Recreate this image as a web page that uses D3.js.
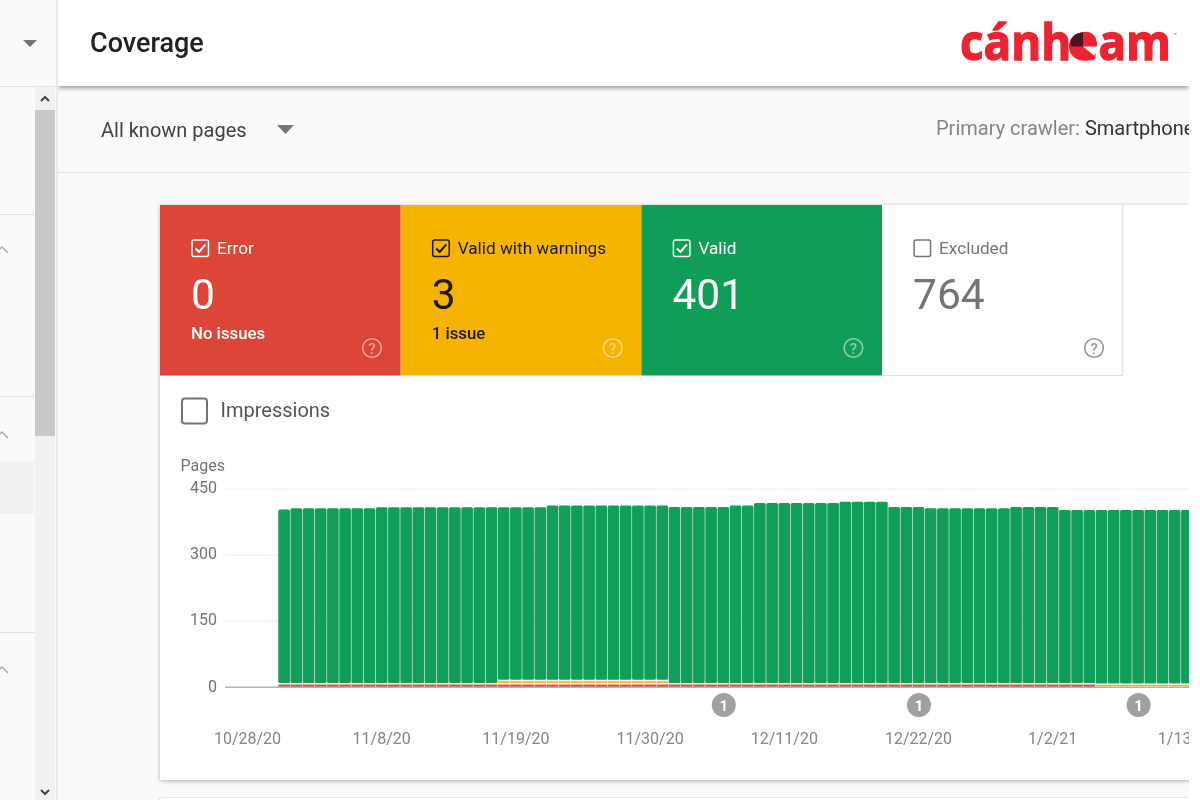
<!DOCTYPE html>
<html><head><meta charset="utf-8">
<script src="https://cdn.jsdelivr.net/npm/d3@7"></script>
<style>
html,body{margin:0;padding:0;background:#fff;overflow:hidden}
svg{display:block;font-family:Roboto,sans-serif;filter:blur(0.5px)}
</style></head><body>
<svg id="c" width="1200" height="800"></svg>
<script>
// ---- data ----
const startDate = "2020-10-31";
const errorPages = [5,5,5,5,5,5,5,5,5,5,5,5,5,5,5,5,5,5,5,5,5,5,5,5,5,5,5,5,5,5,5,5,5,5,5,5,5,5,5,5,5,5,5,5,5,5,5,5,5,5,5,5,5,5,5,5,5,5,5,5,5,5,5,5,5,5,5,0,0,0,0,0,0,0,0];
const warningPages = [0,0,0,0,0,0,0,0,0,0,0,0,0,0,0,0,0,0,4,4,4,4,4,4,4,4,4,4,4,4,4,4,0,0,0,0,0,0,0,0,0,0,0,0,0,0,0,0,0,0,0,0,0,0,0,0,0,0,0,0,0,0,0,0,0,0,0,4,4,4,4,4,4,4,4];
const validPages = [394,397,397,397,397,397,397,397,399,399,399,399,399,399,399,399,399,399,392,392,392,392,396,396,396,396,396,396,396,396,396,396,400,400,400,400,400,403,403,409,409,409,409,409,409,409,412,412,412,412,400,400,400,397,397,397,397,397,397,397,400,400,400,400,393,393,393,394,394,394,394,394,394,394,394];
const yTicks = [0,150,300,450];
const tickDates = ["2020-10-28","2020-11-08","2020-11-19","2020-11-30","2020-12-11","2020-12-22","2021-01-02","2021-01-13"];
const annotationDates = ["2020-12-06","2020-12-22","2021-01-09"];
const annotationLabels = ["1","1","1"];
const cardNames = ["Error","Valid with warnings","Valid","Excluded"];
const cardValues = ["0","3","401","764"];
const cardNotes = ["No issues","1 issue","",""];
const cardColors = ["#dd4539","#f5b400","#109d58","#ffffff"];
const cardInk = ["#ffffff","#1c1a10","#ffffff","#757575"];
const cardChecked = [true,true,true,false];

// ---- helpers ----
const svg = d3.select("#c");
const defs = svg.append("defs");
const shadow = (id,dy,sd,op)=>defs.append("filter").attr("id",id).attr("x","-5%").attr("y","-5%").attr("width","110%").attr("height","115%")
  .append("feDropShadow").attr("dx",0).attr("dy",dy).attr("stdDeviation",sd).attr("flood-color","#000").attr("flood-opacity",op);
shadow("cardShadow",1,2.2,0.3);
shadow("headShadow",2,2.5,0.4);
defs.append("clipPath").attr("id","pageClip").append("rect").attr("x",0).attr("y",0).attr("width",1189).attr("height",800);
defs.append("clipPath").attr("id","mainClip").append("rect").attr("x",58).attr("y",0).attr("width",1131).attr("height",800);

const page = svg.append("g").attr("clip-path","url(#pageClip)");
const rect=(p,x,y,w,h,f)=>p.append("rect").attr("x",x).attr("y",y).attr("width",w).attr("height",h).attr("fill",f);
const txt=(p,x,y,s,size,col,wt)=>p.append("text").attr("x",x).attr("y",y).text(s).attr("font-size",size).attr("fill",col).attr("font-weight",wt||400);
const tri=(p,x,y,w,h,f)=>p.append("path").attr("d",`M${x},${y}h${w}l${-w/2},${h}z`).attr("fill",f);

// ---- page chrome ----
rect(page,0,0,1189,800,"#fafafa");
// sidebar
rect(page,35,86,20,714,"#f1f1f1");
rect(page,35,110,20,326,"#c8c8c8");
rect(page,0,461,34,53,"#f1f1f1");
[214,396,632].forEach(y=>rect(page,0,y,34,1,"#e0e0e0"));
[250,435,670].forEach(y=>page.append("path").attr("d",`M-2,${y+1}L2,${y-3}L8,${y+3}`).attr("fill","none").attr("stroke","#aaa").attr("stroke-width",1.4));
rect(page,0,86,57,1,"#e4e4e4");
tri(page,23,40,14,7,"#757575");
page.append("path").attr("d","M41,101L45,97L49,101").attr("fill","none").attr("stroke","#444").attr("stroke-width",2);
page.append("path").attr("d","M41,790L45,794L49,790").attr("fill","none").attr("stroke","#444").attr("stroke-width",2);
rect(page,56.5,0,1.2,800,"#dedede");

const main = page.append("g").attr("clip-path","url(#mainClip)");
// filter row
rect(main,58,172,1131,1,"#e0e0e0");
txt(main,101,136.5,"All known pages",20,"#424242");
tri(main,277,125,17,9,"#757575");
const crawler = txt(main,936,135,"Primary crawler: ",20,"#858585");
crawler.append("tspan").text("Smartphone").attr("fill","#333");
// header
rect(main,58,0,1131,86,"#ffffff").attr("filter","url(#headShadow)");
txt(main,90,52,"Coverage",27,"#212121",500);
// logo
txt(main,960,60,"cánheam",50,"#ee2230",700).attr("font-family","Open Sans").attr("textLength",211).attr("lengthAdjust","spacingAndGlyphs").attr("stroke","#ee2230").attr("stroke-width",1.3);
main.append("circle").attr("cx",1083).attr("cy",46.5).attr("r",14).attr("fill","#ee2230");
main.append("path").attr("d","M1083,46.5L1097,46.5A14,14 0 0 1 1094,55.5z").attr("fill","#fff");
main.append("path").attr("d","M1083,46.5L1071,39A14,14 0 0 1 1083,32.5z").attr("fill","#4a1420");
main.append("path").attr("d","M1083,46.5L1071,46.5A12,12 0 0 1 1071,39z").attr("fill","#4a1420");
txt(main,1173.5,37,"™",6,"#ee2230");

// next card hint and main card
rect(main,160,798,1029,10,"#ffffff").attr("filter","url(#cardShadow)");
rect(main,160,205,1040,575,"#ffffff").attr("filter","url(#cardShadow)");

// ---- summary cards ----
const cardW = 240.7;
const cards = main.selectAll("g.card").data(cardNames).join("g").attr("class","card")
  .attr("transform",(d,i)=>`translate(${160+i*cardW},205)`);
cards.append("rect").attr("width",cardW).attr("height",170.5).attr("fill",(d,i)=>cardColors[i]);
cards.filter((d,i)=>i===3).append("path").attr("d",`M0,170.5H${cardW}V0`).attr("fill","none").attr("stroke","#e0e0e0").attr("stroke-width",1.2);
cards.append("rect").attr("x",32).attr("y",35).attr("width",16.5).attr("height",16.5).attr("rx",2).attr("fill","none")
  .attr("stroke",(d,i)=>cardInk[i]).attr("stroke-width",1.5);
cards.filter((d,i)=>cardChecked[i]).append("path").attr("d","M35.5,43.5L39,47L45.5,39.5").attr("fill","none")
  .attr("stroke",(d,i)=>cardInk[i]).attr("stroke-width",2);
cards.append("text").attr("x",57).attr("y",49).text(d=>d).attr("font-size",17.2).attr("fill",(d,i)=>cardInk[i]);
cards.append("text").attr("x",31).attr("y",104).text((d,i)=>cardValues[i]).attr("font-size",42.5).attr("fill",(d,i)=>cardInk[i]);
cards.append("text").attr("x",31).attr("y",134).text((d,i)=>cardNotes[i]).attr("font-size",16.8).attr("font-weight",500).attr("fill",(d,i)=>cardInk[i]);
const helpInk = ["#ffffff","#ffffff","#ffffff","#757575"];
cards.append("circle").attr("cx",212).attr("cy",143).attr("r",9.3).attr("fill","none")
  .attr("stroke",(d,i)=>helpInk[i]).attr("stroke-opacity",(d,i)=>i===3?0.75:0.5).attr("stroke-width",1.6);
cards.append("text").attr("x",212).attr("y",148.5).attr("text-anchor","middle").text("?").attr("font-size",15).attr("font-weight",500)
  .attr("fill",(d,i)=>helpInk[i]).attr("fill-opacity",(d,i)=>i===3?0.75:0.5);

// impressions toggle
main.append("rect").attr("x",182).attr("y",398.5).attr("width",25).attr("height",25).attr("rx",3).attr("fill","none").attr("stroke","#757575").attr("stroke-width",2);
txt(main,220.5,417,"Impressions",20,"#555555");

// ---- chart ----
const parse = d3.utcParse("%Y-%m-%d");
const first = parse(tickDates[0]);
const allDays = d3.utcDay.range(first, d3.utcDay.offset(parse(tickDates[tickDates.length-1]),1));
const x = d3.scaleBand().domain(allDays.map(Number)).range([241.4,241.4+allDays.length*12.2]);
const y = d3.scaleLinear().domain([0,450]).range([686.7,488.6]);
const gapPx = 1.5;
const rows = validPages.map((v,i)=>({date:d3.utcDay.offset(parse(startDate),i),error:errorPages[i],warning:warningPages[i],valid:v}));

const chart = main.append("g");
txt(chart,180.5,470.5,"Pages",16,"#757575");
const yAxis = chart.append("g").attr("transform","translate(225,0)")
  .call(d3.axisLeft(y).tickValues(yTicks).tickSize(0).tickPadding(8));
yAxis.select(".domain").remove();
yAxis.selectAll("text").attr("font-size",16).attr("font-family","Roboto").attr("fill","#757575").attr("dy","0.27em");
yAxis.selectAll(".tick").each(function(d){
  d3.select(this).select("line").attr("x2",964).attr("stroke",d===0?"#b5b5b5":"#eeeeee").attr("stroke-width",d===0?1.4:1);
});
const xAxis = chart.append("g").attr("transform","translate(0,733)")
  .call(d3.axisBottom(x).tickValues(tickDates.map(s=>+parse(s))).tickSize(0).tickPadding(0)
    .tickFormat(v=>{const D=new Date(v);return `${D.getUTCMonth()+1}/${D.getUTCDate()}/${String(D.getUTCFullYear()).slice(2)}`;}));
xAxis.select(".domain").remove();
xAxis.selectAll("text").attr("font-size",16).attr("font-family","Roboto").attr("fill","#858585");

const bw = x.bandwidth()-0.55;
const bars = chart.selectAll("g.bar").data(rows).join("g").attr("class","bar")
  .attr("transform",d=>`translate(${x(+d.date)+0.28},0)`);
bars.filter(d=>d.error>0).append("rect").attr("width",bw).attr("y",d=>y(d.error)).attr("height",d=>y(0)-y(d.error)).attr("fill","#d2524a");
bars.filter(d=>d.warning>0).append("rect").attr("width",bw)
  .attr("y",d=>y(d.error+d.warning)-(d.error>0?gapPx:0))
  .attr("height",d=>y(0)-y(d.warning)).attr("fill","#eeb92c");
bars.append("rect").attr("width",bw).attr("rx",1.5)
  .attr("y",d=>y(d.error+d.warning+d.valid)-gapPx*((d.error>0)+(d.warning>0)))
  .attr("height",d=>y(0)-y(d.valid)).attr("fill","#119e59");

// annotation markers
const notes = chart.selectAll("g.note").data(annotationDates).join("g").attr("class","note")
  .attr("transform",d=>`translate(${x(+parse(d))+x.bandwidth()/2+0.5},705)`);
notes.append("circle").attr("r",12).attr("fill","#a0a0a0");
notes.append("text").attr("text-anchor","middle").attr("y",5.5).text((d,i)=>annotationLabels[i]).attr("font-size",15).attr("font-weight",700).attr("fill","#fff");
</script>
</body></html>
